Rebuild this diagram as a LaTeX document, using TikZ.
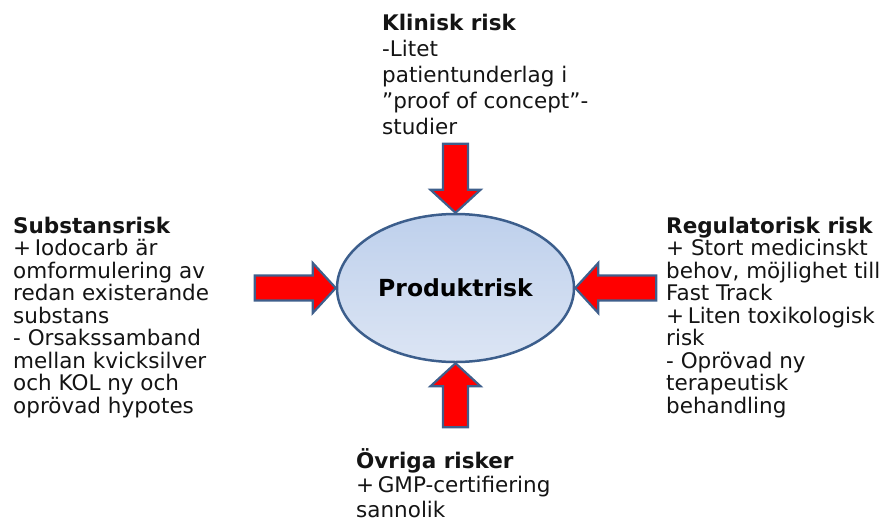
\documentclass[tikz,border=0pt]{standalone}
\usepackage{fontspec}
\setmainfont{DejaVu Sans}
\usetikzlibrary{shapes.geometric}
\definecolor{arrowedge}{RGB}{63,95,140}
\definecolor{elledge}{RGB}{60,94,140}
\definecolor{elltop}{RGB}{190,208,236}
\definecolor{ellbot}{RGB}{220,229,244}
\definecolor{txt}{RGB}{20,20,20}
\tikzset{
  x=1pt, y=-1pt,
  riskbox/.style={anchor=north west, inner sep=0pt, align=left, text=txt,
    font=\fontsize{21.5}{22.5}\selectfont},
  prodell/.style={ellipse, draw=elledge, line width=2.5pt,
    top color=elltop, bottom color=ellbot, minimum width=237pt, minimum height=148pt,
    inner sep=0pt, font=\bfseries\fontsize{23.5}{26}\selectfont, text=black},
  arrowshape/.style={draw=arrowedge, fill=red, line width=2.2pt, line join=miter},
  pics/blockarrow/.style={code={
    \draw[arrowshape] (0,0) -- (-23,25) -- (-23,12.5) -- (-#1,12.5) -- (-#1,-12.5)
      -- (-23,-12.5) -- (-23,-25) -- cycle;}}
}
\begin{document}
\begin{tikzpicture}
\useasboundingbox (0,0) rectangle (888,522);
\node[prodell] (prod) at (455.5,288) {Produktrisk};

\pic[shift={(prod.west)}] {blockarrow=81};
\pic[shift={(prod.east)}, rotate=180] {blockarrow=81};
\pic[shift={(prod.north)}, rotate=-90] {blockarrow=69};
\pic[shift={(prod.south)}, rotate=90] {blockarrow=64};

\node[riskbox] (subst) at (13,216.5) {\textbf{Substansrisk}\\+\,Iodocarb är\\omformulering av\\redan existerande\\substans\\- Orsakssamband\\mellan kvicksilver\\och KOL ny och\\oprövad hypotes};
\node[riskbox] (reg) at (666,216.5) {\textbf{Regulatorisk risk}\\+ Stort medicinskt\\behov, möjlighet till\\Fast Track\\+\,Liten toxikologisk\\risk\\- Oprövad ny\\terapeutisk\\behandling};
\node[riskbox, font=\fontsize{21.5}{26}\selectfont] (klin) at (382,13.5) {\textbf{Klinisk risk}\\-Litet\\patientunderlag i\\”proof of concept”-\\studier};
\node[riskbox, font=\fontsize{21.5}{24.5}\selectfont] (ovr) at (356,448) {\textbf{Övriga risker}\\+\,GMP-certifiering\\sannolik};
\end{tikzpicture}
\end{document}
